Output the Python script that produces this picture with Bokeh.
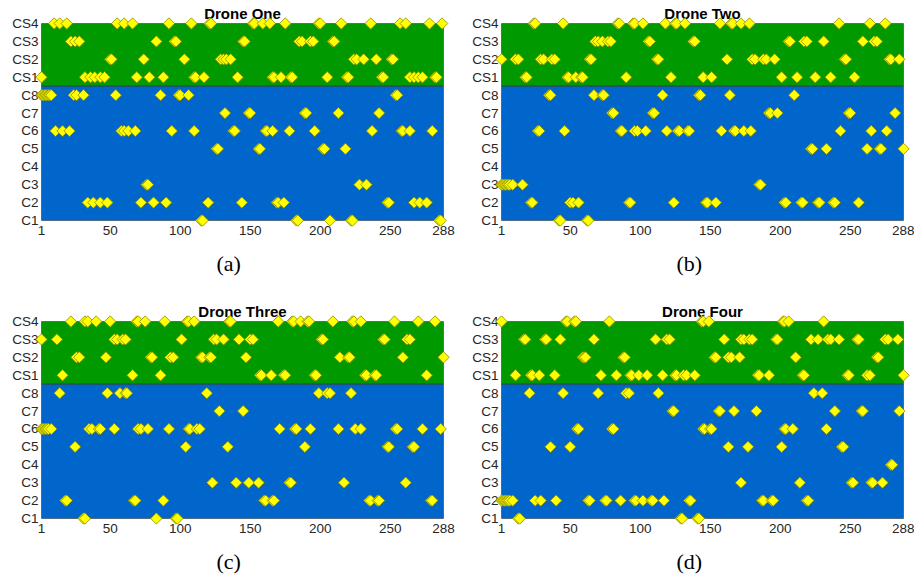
import numpy as np
from bokeh.plotting import figure
from bokeh.models import FixedTicker, Title
from bokeh.layouts import column, row
from bokeh.embed import file_html
from bokeh.resources import INLINE

categories = ["C1", "C2", "C3", "C4", "C5", "C6", "C7", "C8", "CS1", "CS2", "CS3", "CS4"]
x_ticks = [1, 50, 100, 150, 200, 250, 288]
titles = ["Drone One", "Drone Two", "Drone Three", "Drone Four"]
captions = ["(a)", "(b)", "(c)", "(d)"]

drone_one = {
    "C1": [115, 116, 183, 184, 207, 222, 223, 285, 286],
    "C2": [34, 38, 43, 48, 72, 81, 90, 120, 144, 169, 170, 174, 248, 249, 267, 271, 276],
    "C3": [76, 77, 228, 233],
    "C4": [],
    "C5": [126, 127, 156, 157, 202, 203, 218],
    "C6": [11, 16, 21, 58, 60, 63, 68, 94, 110, 138, 139, 161, 162, 166, 178, 196, 237, 258, 259, 264, 280],
    "C7": [132, 149, 150, 189, 190, 213, 242],
    "C8": [1, 2, 3, 4, 5, 6, 7, 8, 24, 26, 31, 54, 86, 99, 100, 106, 254, 255],
    "CS1": [1, 32, 36, 39, 43, 46, 69, 78, 88, 110, 111, 117, 141, 166, 167, 172, 179, 180, 205, 219, 220,
            244, 245, 264, 267, 270, 273, 282, 283],
    "CS2": [50, 51, 74, 103, 129, 131, 133, 136, 224, 226, 231, 240, 251, 252],
    "CS3": [22, 25, 28, 83, 96, 97, 145, 146, 185, 187, 193, 195, 209, 210],
    "CS4": [10, 14, 19, 55, 60, 66, 92, 108, 121, 122, 152, 153, 159, 164, 175, 199, 200, 215, 236, 257, 261,
            278, 287],
}

drone_two = {
    "C1": [42, 43, 62, 63],
    "C2": [22, 23, 50, 52, 56, 92, 93, 124, 147, 148, 154, 203, 204, 215, 216, 227, 228, 238, 239, 256],
    "C3": [1, 2, 3, 4, 5, 6, 7, 9, 16, 185, 186],
    "C4": [],
    "C5": [222, 223, 233, 262, 271, 272, 288],
    "C6": [27, 28, 46, 86, 87, 96, 98, 104, 119, 127, 128, 134, 135, 158, 167, 168, 174, 179, 243, 265, 276],
    "C7": [80, 81, 109, 110, 192, 193, 198, 249, 250, 282],
    "C8": [35, 36, 67, 73, 74, 116, 142, 143, 164, 210],
    "CS1": [18, 19, 48, 49, 54, 58, 59, 90, 122, 145, 151, 201, 212, 225, 236, 253],
    "CS2": [1, 11, 13, 29, 31, 37, 39, 64, 65, 112, 113, 162, 180, 182, 188, 190, 196, 246, 247, 278, 279, 285],
    "CS3": [68, 70, 73, 77, 79, 106, 107, 138, 139, 206, 207, 217, 219, 231, 259, 267, 269],
    "CS4": [24, 25, 45, 84, 85, 95, 96, 102, 118, 125, 126, 132, 157, 165, 166, 172, 178, 242, 264, 275],
}

drone_three = {
    "C1": [31, 32, 83, 97, 98],
    "C2": [18, 19, 67, 68, 88, 160, 161, 166, 167, 235, 236, 241, 242, 279, 280],
    "C3": [123, 140, 149, 156, 178, 179, 217, 261],
    "C4": [],
    "C5": [25, 104, 134, 189, 248, 249, 266, 267],
    "C6": [1, 2, 3, 4, 5, 6, 8, 35, 37, 42, 43, 53, 70, 72, 77, 92, 106, 107, 112, 114, 171, 182, 183, 193,
           213, 225, 229, 254, 255, 273, 286],
    "C7": [128, 145],
    "C8": [14, 48, 57, 61, 62, 119, 199, 205, 207, 222],
    "CS1": [16, 66, 86, 157, 158, 165, 174, 175, 196, 197, 232, 233, 239, 240, 276],
    "CS2": [26, 28, 47, 79, 80, 93, 95, 115, 116, 121, 122, 147, 214, 220, 221, 259, 288],
    "CS3": [1, 12, 53, 55, 59, 61, 101, 124, 126, 131, 142, 150, 152, 201, 202, 245, 246, 262, 264],
    "CS4": [22, 32, 34, 40, 50, 69, 70, 75, 89, 105, 106, 110, 135, 136, 170, 180, 181, 186, 191, 192, 209,
            223, 224, 229, 253, 270, 282],
}

drone_four = {
    "C1": [13, 14, 129, 130, 141, 142],
    "C2": [1, 2, 3, 4, 5, 6, 7, 9, 25, 29, 40, 63, 64, 75, 76, 86, 96, 97, 102, 108, 109, 117, 135, 136,
           187, 188, 194, 195, 219, 220],
    "C3": [172, 214, 251, 252, 265, 266, 273],
    "C4": [279, 280],
    "C5": [36, 50, 163, 177, 201, 244, 245],
    "C6": [55, 56, 80, 81, 145, 146, 150, 151, 203, 204, 209, 233],
    "C7": [123, 124, 156, 157, 167, 183, 239, 258, 259, 285],
    "C8": [21, 45, 70, 90, 92, 113, 224, 230],
    "CS1": [11, 22, 23, 28, 39, 72, 83, 93, 94, 99, 105, 116, 125, 126, 131, 133, 139, 184, 185, 192, 216,
            217, 248, 249, 262, 264, 288],
    "CS2": [59, 60, 61, 88, 89, 153, 154, 163, 165, 171, 211, 269, 270],
    "CS3": [17, 18, 32, 33, 43, 67, 111, 119, 121, 160, 172, 174, 178, 180, 197, 198, 222, 227, 234, 236,
            242, 255, 256, 275, 277, 284],
    "CS4": [1, 47, 48, 53, 54, 78, 144, 145, 149, 202, 203, 206, 231],
}

drones = [drone_one, drone_two, drone_three, drone_four]

BLUE = "#0066CC"
GREEN = "#009900"
FONT = "Liberation Sans"


def make_panel(idx, width, height, left, right, top, bottom, title_standoff, cap_standoff):
    data = drones[idx]
    xmin, xmax = x_ticks[0], x_ticks[-1]
    ymin, ymax = 1, len(categories)
    split = categories.index("CS1") + 0.5
    p = figure(width=width, height=height, x_range=(xmin, xmax), y_range=(ymin, ymax),
               output_backend="svg", toolbar_location=None,
               min_border_left=left, min_border_right=right,
               min_border_top=top, min_border_bottom=bottom)
    p.background_fill_color = "white"
    p.border_fill_color = "white"
    p.outline_line_color = "#6e6e6e"
    p.outline_line_width = 1
    p.xgrid.visible = False
    p.ygrid.visible = False

    p.title.text = titles[idx]
    p.title.align = "center"
    p.title.text_font = FONT
    p.title.text_font_size = "15px"
    p.title.text_font_style = "bold"
    p.title.text_color = "black"
    p.title.standoff = title_standoff

    p.quad(left=[xmin, xmin], right=[xmax, xmax], bottom=[ymin, split], top=[split, ymax],
           fill_color=[BLUE, GREEN], line_color=None)
    p.segment(x0=[xmin], y0=[split], x1=[xmax], y1=[split], line_color="#0d3a5c", line_width=1)

    pts = []
    for i, cat in enumerate(categories):
        for x in data[cat]:
            pts.append((x, i + 1))
    pts.sort()
    xs = [a for a, b in pts]
    ys = [b for a, b in pts]
    p.scatter(xs, ys, marker="square", angle=np.pi / 4, size=8,
              fill_color="#FFFF00", line_color="#8a8a00", line_width=0.8, level="overlay")

    p.xaxis.ticker = FixedTicker(ticks=x_ticks)
    p.yaxis.ticker = FixedTicker(ticks=list(range(1, len(categories) + 1)))
    p.yaxis.major_label_overrides = {i + 1: c for i, c in enumerate(categories)}
    for ax in (p.xaxis[0], p.yaxis[0]):
        ax.axis_line_color = None
        ax.major_tick_out = 0
        ax.major_tick_in = 0
        ax.minor_tick_out = 0
        ax.minor_tick_in = 0
        ax.major_label_text_font = FONT
        ax.major_label_text_font_size = "13.5px"
        ax.major_label_text_color = "#262626"
    p.yaxis.major_label_standoff = 3
    p.xaxis.major_label_standoff = 5

    cap = Title(text=captions[idx], align="left", offset=175, standoff=cap_standoff,
                text_font="Liberation Serif", text_font_size="22px", text_font_style="normal",
                text_color="black")
    p.add_layout(cap, "below")
    return p


pa = make_panel(0, 460, 298, 41, 17, 23, 78, 3, 23)
pb = make_panel(1, 454, 298, 41, 11, 23, 78, 3, 23)
pc = make_panel(2, 460, 287, 41, 17, 23, 67, 3, 22)
pd = make_panel(3, 454, 287, 41, 11, 23, 67, 3, 22)

layout = column(row(pa, pb), row(pc, pd))

open("out.html", "w").write(file_html(layout, INLINE))
